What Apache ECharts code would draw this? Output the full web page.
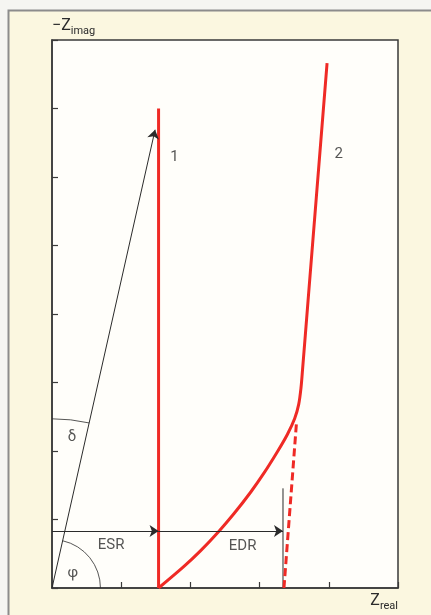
<!DOCTYPE html>
<html><head><meta charset="utf-8">
<script src="https://cdn.jsdelivr.net/npm/echarts@6/dist/echarts.min.js"></script>
<style>html,body{margin:0;padding:0;background:#f5f5f2;}#c{width:431px;height:615px;}</style>
</head><body><div id="c"></div>
<script>
// axis ranges and ticks
const xMin = 0, xMax = 5, xStep = 1;
const yMin = 0, yMax = 8, yStep = 1;
// curve 1: ideal capacitor (vertical line at ESR)
const curve1 = [[1.54, 0], [1.54, 7.0]];
// curve 2: porous electrode
const curve2 = [[1.54, 0], [1.903, 0.312], [2.145, 0.542], [2.410, 0.826], [2.628, 1.083], [2.870, 1.398], [3.062, 1.676], [3.257, 1.989], [3.401, 2.241], [3.507, 2.474], [3.565, 2.68], [3.598, 2.92], [3.62, 3.18], [3.70, 4.19], [3.975, 7.664]];
// dashed extrapolation of the straight part
const asymptote = [[3.352, 0], [3.532, 2.40]];
// impedance vector
const vectorArrow = [[0, 0], [1.49, 6.69]];
const esrArrow = [[0, 0.832], [1.54, 0.832]];
const edrArrow = [[1.54, 0.832], [3.338, 0.832]];
const edrMarker = [[3.338, 0], [3.338, 1.455]];
// annotation labels [x, y, text]
const labels = [[0.855, 0.628, 'ESR'], [2.754, 0.613, 'EDR'], [1.768, 6.29, '1'], [4.145, 6.33, '2'], [0.29, 2.20, 'δ'], [0.30, 0.219, 'φ']];
const phiRadius = 0.70;    // in x units
const deltaRadius = 2.47;  // in y units

const red = '#ef2a25';
const ink = '#2b2b2b';
const chart = echarts.init(document.getElementById('c'));
const font = 'Roboto, "Liberation Sans", sans-serif';

chart.setOption({
  animation: false,
  backgroundColor: 'transparent',
  graphic: {
    elements: [{
      id: 'bg', type: 'rect', z: -10, silent: true,
      shape: { x: 8.5, y: 10.5, width: 440, height: 620 },
      style: { fill: '#fbf7e0', stroke: '#8c8c8c', lineWidth: 2 }
    }]
  },
  grid: { left: 52, top: 40, right: 33, bottom: 27, show: true, backgroundColor: '#fffefa', borderColor: '#3a3a3a', borderWidth: 1.5 },
  xAxis: {
    type: 'value', min: xMin, max: xMax, interval: xStep,
    axisLine: { show: true, onZero: false, lineStyle: { color: '#3a3a3a', width: 1.5 } },
    axisTick: { show: true, inside: true, length: 6, lineStyle: { color: '#3a3a3a', width: 1.2 } },
    axisLabel: { show: false }, splitLine: { show: false },
    name: '{z|Z}{s|real}', nameLocation: 'end', nameGap: 0,
    nameTextStyle: { align: 'right', verticalAlign: 'top', padding: [5, 0, 0, 0],
      rich: { z: { fontSize: 16, color: ink, fontFamily: font, verticalAlign: 'bottom' }, s: { fontSize: 11, color: ink, fontFamily: font, verticalAlign: 'bottom', padding: [0, 0, -3, 0] } } }
  },
  yAxis: {
    type: 'value', min: yMin, max: yMax, interval: yStep,
    axisLine: { show: true, onZero: false, lineStyle: { color: '#3a3a3a', width: 1.5 } },
    axisTick: { show: true, inside: true, length: 6, lineStyle: { color: '#3a3a3a', width: 1.2 } },
    axisLabel: { show: false }, splitLine: { show: false },
    name: '{z|−Z}{s|imag}', nameLocation: 'end', nameGap: 6,
    nameTextStyle: { align: 'left', verticalAlign: 'bottom',
      rich: { z: { fontSize: 16, color: ink, fontFamily: font, verticalAlign: 'bottom' }, s: { fontSize: 11, color: ink, fontFamily: font, verticalAlign: 'bottom', padding: [0, 0, -3, 0] } } }
  },
  series: [
    { type: 'line', data: curve1, symbol: 'none', lineStyle: { color: red, width: 3 }, z: 5 },
    { type: 'line', data: curve2, symbol: 'none', smooth: 0.3, lineStyle: { color: red, width: 3 }, z: 5 },
    { type: 'line', data: asymptote, symbol: 'none', lineStyle: { color: red, width: 3, type: [8, 4] }, z: 5 },
    { type: 'line', data: edrMarker, symbol: 'none', lineStyle: { color: ink, width: 1 }, z: 4 },
    { type: 'lines', coordinateSystem: 'cartesian2d', symbol: ['none', 'arrow'], symbolSize: [4, 9],
      lineStyle: { color: ink, width: 1, opacity: 1 }, z: 6,
      data: [{ coords: vectorArrow }, { coords: esrArrow }, { coords: edrArrow }] },
    { type: 'scatter', symbolSize: 0, z: 7, silent: true,
      data: labels.map(l => ({ value: [l[0], l[1]], name: l[2] })),
      label: { show: true, position: 'inside', formatter: p => p.name, color: ink, fontSize: 15, fontFamily: font } }
  ]
});

const o = chart.convertToPixel({ gridIndex: 0 }, [0, 0]);
const tip = chart.convertToPixel({ gridIndex: 0 }, vectorArrow[1]);
const rx = chart.convertToPixel({ gridIndex: 0 }, [phiRadius, 0])[0] - o[0];
const ry = o[1] - chart.convertToPixel({ gridIndex: 0 }, [0, deltaRadius])[1];
const ang = Math.atan2(tip[1] - o[1], tip[0] - o[0]);
chart.setOption({
  graphic: {
    elements: [
      { id: 'phi', type: 'arc', z: 10, silent: true, shape: { cx: o[0], cy: o[1], r: rx, startAngle: ang, endAngle: 0, clockwise: true }, style: { stroke: ink, lineWidth: 0.8, fill: null } },
      { id: 'delta', type: 'arc', z: 10, silent: true, shape: { cx: o[0], cy: o[1], r: ry, startAngle: -Math.PI / 2, endAngle: ang, clockwise: true }, style: { stroke: ink, lineWidth: 0.8, fill: null } }
    ]
  }
});
</script></body></html>
